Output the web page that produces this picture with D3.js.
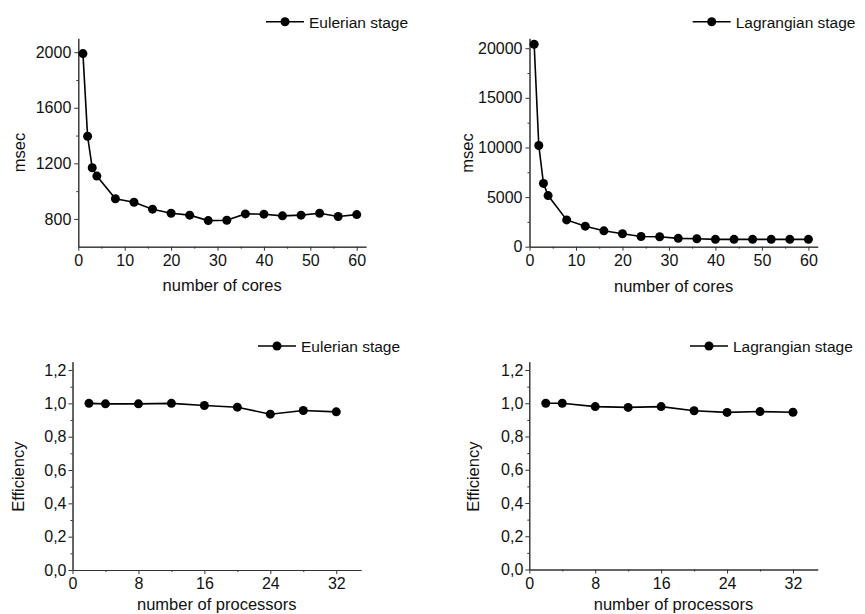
<!DOCTYPE html>
<html>
<head>
<meta charset="utf-8">
<script src="https://cdn.jsdelivr.net/npm/d3@7"></script>
<style>
  body { margin: 0; background: #fff; }
  svg { display: block; font-family: "Liberation Sans", Arial, sans-serif; }
  .axis path, .axis line { stroke: #333; stroke-width: 1; }
  .axis text { fill: #111; font-size: 16px; font-family: "Liberation Sans", Arial, sans-serif; }
</style>
</head>
<body>
<div id="chart"></div>
<script>
// values
const cores = [1, 2, 3, 4, 8, 12, 16, 20, 24, 28, 32, 36, 40, 44, 48, 52, 56, 60];
const eulerianMsec = [1990, 1395, 1168, 1108, 945, 920, 870, 841, 827, 788, 790, 836, 834, 822, 827, 841, 817, 831];
const lagrangianMsec = [20400, 10200, 6380, 5150, 2700, 2070, 1600, 1300, 1030, 1000, 840, 800, 740, 740, 740, 740, 740, 740];

const procs = [2, 4, 8, 12, 16, 20, 24, 28, 32];
const eulerianEff = [1.0, 0.997, 0.997, 1.0, 0.987, 0.977, 0.935, 0.957, 0.949];
const lagrangianEff = [1.0, 1.0, 0.98, 0.975, 0.98, 0.955, 0.945, 0.95, 0.946];

const coreTicks = [0, 10, 20, 30, 40, 50, 60];
const procTicks = [0, 8, 16, 24, 32];
const msecTicksE = [800, 1200, 1600, 2000];
const msecTicksL = [0, 5000, 10000, 15000, 20000];
const effTicks = [0, 0.2, 0.4, 0.6, 0.8, 1.0, 1.2];

const W = 865, H = 614;
const svg = d3.select("#chart").append("svg").attr("width", W).attr("height", H);

const comma = d => d.toFixed(1).replace(".", ",");

const panels = [
  { xs: cores, ys: eulerianMsec, xDom: [0, 62], yDom: [600, 2100], xr: [78.3, 366], yr: [246.7, 38.3],
    xt: coreTicks, xMinor: d3.range(5, 60, 10), yt: msecTicksE, yMinor: [1000, 1400, 1800], yFmt: d3.format("d"),
    xTitle: "number of cores", yTitle: "msec", xTitleY: 291, yTitleX: 25, yTitleY: 152.5, pad: 3,
    legend: "Eulerian stage", lx: 266, ly: 21.7 },
  { xs: cores, ys: lagrangianMsec, xDom: [0, 62], yDom: [0, 21000], xr: [529.5, 817.7], yr: [246.7, 38.3],
    xt: coreTicks, xMinor: d3.range(5, 60, 10), yt: msecTicksL, yMinor: [2500, 7500, 12500, 17500], yFmt: d3.format("d"),
    xTitle: "number of cores", yTitle: "msec", xTitleY: 291.5, yTitleX: 473.3, yTitleY: 153, pad: 3,
    legend: "Lagrangian stage", lx: 692.7, ly: 21.7 },
  { xs: procs, ys: eulerianEff, xDom: [0, 35], yDom: [0, 1.25], xr: [72.5, 361], yr: [570, 361.7],
    xt: procTicks, xMinor: [4, 12, 20, 28], yt: effTicks, yMinor: d3.range(0.1, 1.2, 0.2), yFmt: comma,
    xTitle: "number of processors", yTitle: "Efficiency", xTitleY: 609.5, yTitleX: 23.5, yTitleY: 476.7, pad: 2,
    legend: "Eulerian stage", lx: 258, ly: 346 },
  { xs: procs, ys: lagrangianEff, xDom: [0, 35], yDom: [0, 1.25], xr: [529.3, 817.7], yr: [569.5, 361.7],
    xt: procTicks, xMinor: [4, 12, 20, 28], yt: effTicks, yMinor: d3.range(0.1, 1.2, 0.2), yFmt: comma,
    xTitle: "number of processors", yTitle: "Efficiency", xTitleY: 609.5, yTitleX: 478.5, yTitleY: 476.7, pad: 2,
    legend: "Lagrangian stage", lx: 690, ly: 346 }
];

panels.forEach(p => {
  const x = d3.scaleLinear().domain(p.xDom).range(p.xr);
  const y = d3.scaleLinear().domain(p.yDom).range(p.yr);
  const g = svg.append("g");

  // minor ticks first, no labels
  g.append("g").attr("class", "axis").attr("transform", `translate(0,${p.yr[0]})`)
    .call(d3.axisBottom(x).tickValues(p.xMinor).tickSize(2).tickSizeOuter(0).tickFormat(""));
  g.append("g").attr("class", "axis").attr("transform", `translate(${p.xr[0]},0)`)
    .call(d3.axisLeft(y).tickValues(p.yMinor).tickSize(2).tickSizeOuter(0).tickFormat(""));

  g.append("g").attr("class", "axis").attr("transform", `translate(0,${p.yr[0]})`)
    .call(d3.axisBottom(x).tickValues(p.xt).tickSize(4).tickSizeOuter(0).tickPadding(4).tickFormat(d3.format("d")));
  g.append("g").attr("class", "axis").attr("transform", `translate(${p.xr[0]},0)`)
    .call(d3.axisLeft(y).tickValues(p.yt).tickSize(4).tickSizeOuter(0).tickPadding(p.pad).tickFormat(p.yFmt));

  const pts = p.xs.map((v, i) => [v, p.ys[i]]);
  g.append("path").datum(pts)
    .attr("fill", "none").attr("stroke", "#000").attr("stroke-width", 1.6)
    .attr("d", d3.line().x(d => x(d[0])).y(d => y(d[1])));
  g.selectAll("circle.pt").data(pts).enter().append("circle")
    .attr("class", "pt").attr("cx", d => x(d[0])).attr("cy", d => y(d[1])).attr("r", 4.5).attr("fill", "#000");

  // axis titles
  g.append("text").attr("x", (p.xr[0] + p.xr[1]) / 2).attr("y", p.xTitleY)
    .attr("text-anchor", "middle").attr("font-size", 16.5).attr("fill", "#111").text(p.xTitle);
  g.append("text").attr("transform", `translate(${p.yTitleX},${p.yTitleY}) rotate(-90)`)
    .attr("text-anchor", "middle").attr("font-size", 16.5).attr("fill", "#111").text(p.yTitle);

  // legend
  g.append("line").attr("x1", p.lx).attr("x2", p.lx + 38).attr("y1", p.ly).attr("y2", p.ly)
    .attr("stroke", "#000").attr("stroke-width", 1.6);
  g.append("circle").attr("cx", p.lx + 19).attr("cy", p.ly).attr("r", 4.5).attr("fill", "#000");
  g.append("text").attr("x", p.lx + 43).attr("y", p.ly + 6).attr("font-size", 15.5).attr("fill", "#111").text(p.legend);
});
</script>
</body>
</html>
